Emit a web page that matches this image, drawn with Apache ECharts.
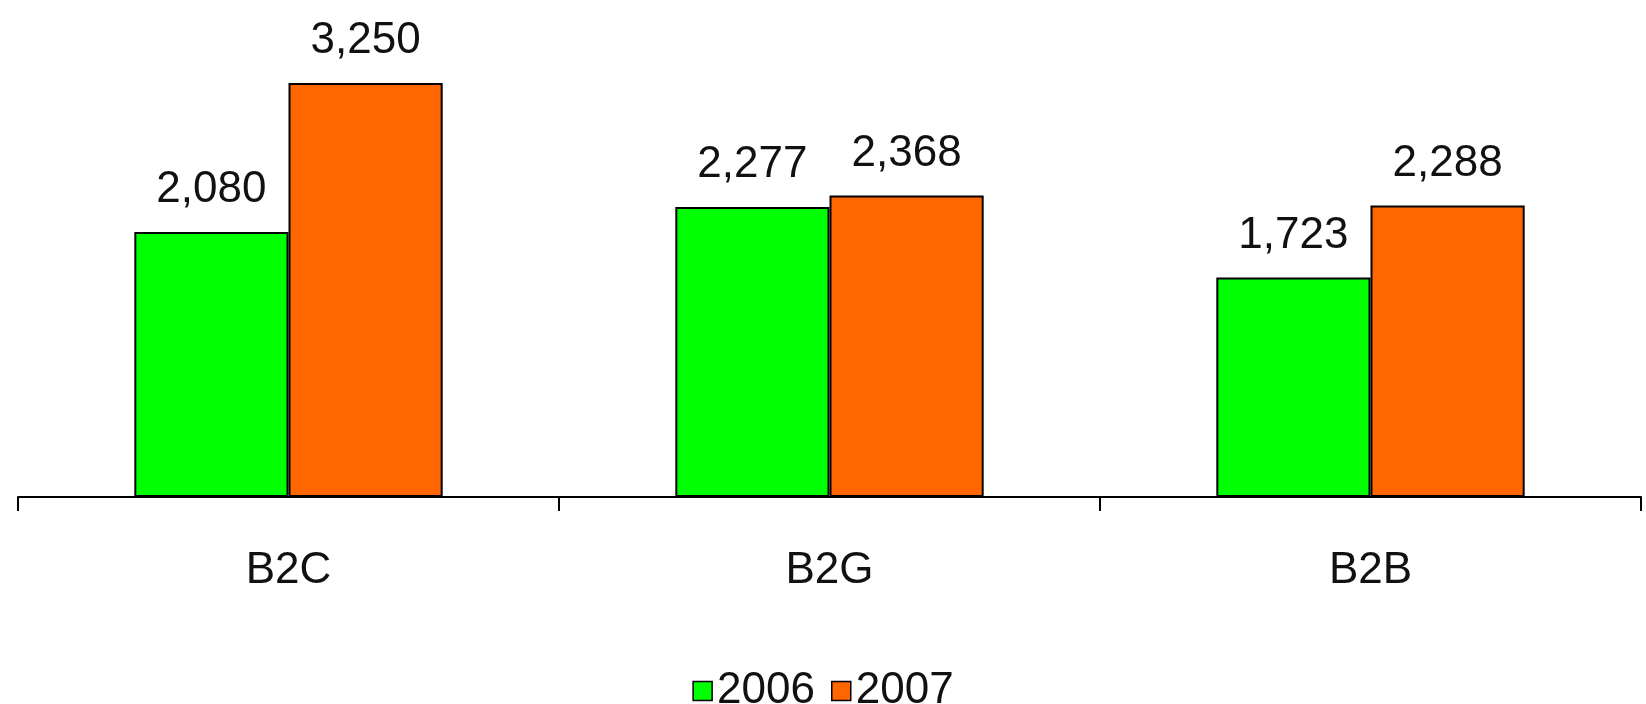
<!DOCTYPE html>
<html>
<head>
<meta charset="utf-8">
<script src="https://cdn.jsdelivr.net/npm/echarts@6/dist/echarts.min.js"></script>
<style>
  html, body { margin: 0; padding: 0; background: #fff; }
  #chart { width: 1646px; height: 704px; }
</style>
</head>
<body>
<div id="chart"></div>
<script>
const categories = ['B2C', 'B2G', 'B2B'];
const values2006 = [2080, 2277, 1723];
const values2007 = [3250, 2368, 2288];

const FONT = '"Liberation Sans", Arial, sans-serif';
const fmt = p => p.value.toLocaleString('en-US');

const chart = echarts.init(document.getElementById('chart'));

function barSeries(name, data, color) {
  return {
    name: name,
    type: 'bar',
    data: data,
    barGap: '0%',
    barCategoryGap: '43%',
    itemStyle: { color: color, borderColor: '#000', borderWidth: 2 },
    label: {
      show: true,
      position: 'top',
      distance: 20,
      formatter: fmt,
      color: '#111',
      fontFamily: FONT,
      fontSize: 44
    }
  };
}

chart.setOption({
  backgroundColor: '#fff',
  animation: false,
  grid: { left: 18, right: 5, top: 13, bottom: 207 },
  legend: {
    data: ['2006', '2007'],
    top: 664,
    left: 'center',
    icon: 'rect',
    itemWidth: 19,
    itemHeight: 19,
    itemGap: 16,
    itemStyle: { borderColor: '#000', borderWidth: 1.5 },
    textStyle: { fontFamily: FONT, fontSize: 44, color: '#111' }
  },
  xAxis: {
    type: 'category',
    data: categories,
    axisLine: { lineStyle: { color: '#000', width: 2 } },
    axisTick: { show: true, length: 14, lineStyle: { color: '#000', width: 2 } },
    axisLabel: { margin: 52, fontFamily: FONT, fontSize: 44, color: '#111' }
  },
  yAxis: {
    type: 'value',
    min: 0,
    max: 3800,
    show: false,
    splitLine: { show: false }
  },
  series: [
    barSeries('2006', values2006, '#00FF00'),
    barSeries('2007', values2007, '#FF6600')
  ]
});
</script>
</body>
</html>
